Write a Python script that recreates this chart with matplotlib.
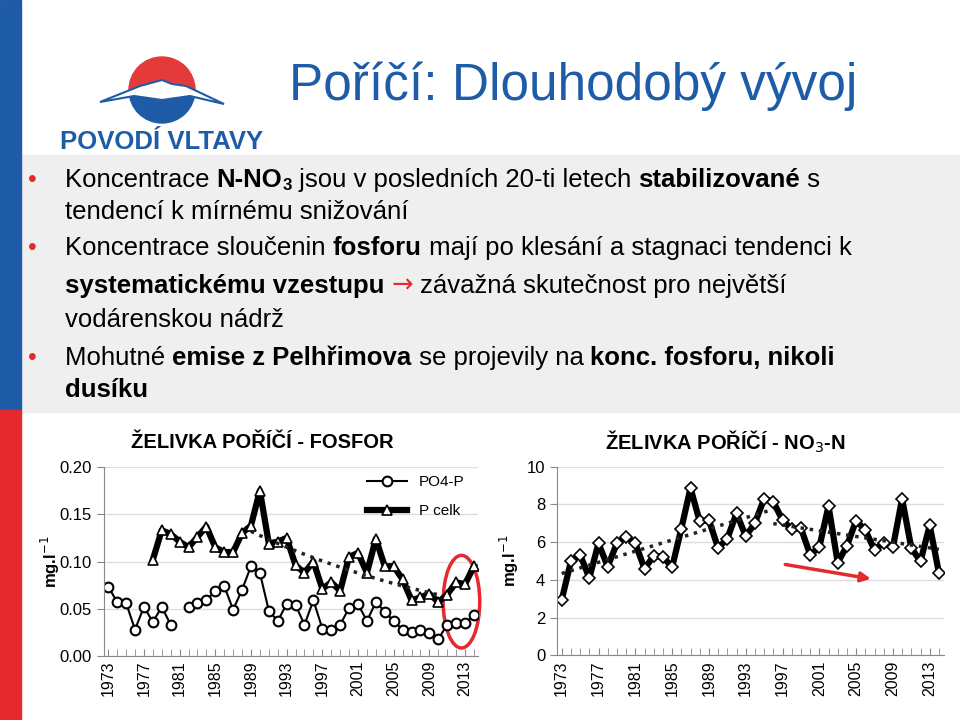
import matplotlib.pyplot as plt
import numpy as np
from matplotlib.patches import Ellipse, Rectangle, Wedge, Polygon

W, H = 960, 720

years = np.arange(1973, 2015)

po4_p = [0.0735, 0.057, 0.056, 0.028, 0.052, 0.036, 0.052, 0.033, np.nan, 0.052,
         0.056, 0.059, 0.069, 0.074, 0.049, 0.070, 0.095, 0.088, 0.048, 0.037,
         0.055, 0.054, 0.033, 0.059, 0.029, 0.027, 0.033, 0.051, 0.055, 0.037,
         0.057, 0.047, 0.037, 0.028, 0.025, 0.028, 0.024, 0.018, 0.033, 0.035,
         0.035, 0.043]

p_celk_years = np.arange(1978, 2015)
p_celk = [0.102, 0.133, 0.129, 0.121, 0.115, 0.126, 0.137, 0.115, 0.110, 0.110,
          0.130, 0.138, 0.175, 0.119, 0.121, 0.125, 0.096, 0.088, 0.100, 0.071,
          0.078, 0.069, 0.105, 0.109, 0.088, 0.124, 0.095, 0.095, 0.081, 0.059,
          0.062, 0.066, 0.057, 0.065, 0.078, 0.076, 0.095]

no3_n = [2.93, 4.98, 5.34, 4.10, 5.94, 4.70, 5.94, 6.29, 5.94, 4.59,
         5.27, 5.23, 4.66, 6.71, 8.87, 7.10, 7.17, 5.69, 6.18, 7.53,
         6.32, 7.00, 8.30, 8.14, 7.17, 6.68, 6.75, 5.34, 5.72, 7.92,
         4.91, 5.80, 7.14, 6.64, 5.58, 5.97, 5.72, 8.30, 5.69, 4.98,
         6.89, 4.38]

year_ticks = list(range(1973, 2015, 4))

fig = plt.figure(figsize=(W / 100, H / 100), dpi=100)
plt.rcParams["font.family"] = "Liberation Sans"


def fx(px):
    return px / W


def fy(py):
    return 1 - py / H


# background pieces
bg = fig.add_axes([0, 0, 1, 1])
bg.set_xlim(0, W)
bg.set_ylim(H, 0)
bg.axis("off")
bg.add_patch(Rectangle((21, 155), W - 21, 257, color="#efefef", zorder=0))
bg.add_patch(Rectangle((0, 0), 21, 410, color="#1f5ca8", zorder=1))
bg.add_patch(Rectangle((0, 410), 21, 310, color="#e42a2f", zorder=1))

# logo
bg.add_patch(Wedge((162, 90), 33, 180, 360, color="#e53a3a"))
bg.add_patch(Wedge((162, 90), 33, 0, 180, color="#1f5ca8"))
bg.add_patch(Polygon([[100, 102], [140, 86], [162, 80], [172, 84], [186, 86], [224, 104],
                      [190, 96], [162, 100], [134, 96]],
                     closed=True, facecolor="white", edgecolor="#1f5ca8", lw=1.5))
bg.text(162, 142, "POVODÍ VLTAVY", color="#1f5ca8", fontsize=18.5, fontweight="bold",
        ha="center", va="center")
bg.text(573, 86, "Poříčí: Dlouhodobý vývoj", color="#1f5ca8", fontsize=37,
        ha="center", va="center")

renderer = fig.canvas.get_renderer()


def rich_line(x, y, pieces, size=18.5):
    for txt, weight, color, sub in pieces:
        fs = size * 0.65 if sub else size
        family = "DejaVu Sans" if txt == "→" else "Liberation Sans"
        t = bg.text(x, y + (6 if sub else 0), txt, fontsize=fs, fontweight=weight,
                    color=color, va="center", ha="left", fontfamily=family)
        bb = t.get_window_extent(renderer)
        x += bb.width * W / fig.bbox.width


n, b = "normal", "bold"
k = "black"
for yb in (180, 248, 358):
    bg.text(28, yb, "•", color="#e42a2f", fontsize=18, va="center")
rich_line(65, 180, [("Koncentrace ", n, k, 0), ("N-NO", b, k, 0), ("3", b, k, 1),
                    (" jsou v posledních 20-ti letech ", n, k, 0),
                    ("stabilizované", b, k, 0), (" s", n, k, 0)])
rich_line(65, 212, [("tendencí k mírnému snižování", n, k, 0)])
rich_line(65, 248, [("Koncentrace sloučenin ", n, k, 0), ("fosforu", b, k, 0),
                    (" mají po klesání a stagnaci tendenci k", n, k, 0)])
rich_line(65, 286, [("systematickému vzestupu ", b, k, 0), ("→", n, "#e42a2f", 0),
                    (" závažná skutečnost pro největší", n, k, 0)])
rich_line(65, 320, [("vodárenskou nádrž", n, k, 0)])
rich_line(65, 358, [("Mohutné ", n, k, 0), ("emise z Pelhřimova", b, k, 0),
                    (" se projevily na ", n, k, 0), ("konc. fosforu, nikoli", b, k, 0)])
rich_line(65, 390, [("dusíku", b, k, 0)])


def style_axes(ax):
    ax.set_xlim(1972.5, 2014.5)
    ax.spines[["top", "right"]].set_visible(False)
    ax.spines[["left", "bottom"]].set_color("#888888")
    ax.set_xticks(year_ticks)
    ax.set_xticks(years, minor=True)
    ax.tick_params(axis="x", which="both", direction="in", length=5, color="#888888",
                   labelrotation=90, labelsize=11.5)
    ax.tick_params(axis="y", direction="out", length=5, color="#888888", labelsize=12)
    ax.yaxis.grid(True, color="#dddddd", lw=1)
    ax.set_axisbelow(True)
    ax.patch.set_alpha(0)


# left chart: phosphorus
ax1 = fig.add_axes([fx(103.8), fy(656), fx(374.6), (656 - 467) / H])
style_axes(ax1)
ax1.set_ylim(0, 0.20)
ax1.set_yticks([0, 0.05, 0.10, 0.15, 0.20])
ax1.set_yticklabels(["0.00", "0.05", "0.10", "0.15", "0.20"])
ax1.plot(years, po4_p, "-o", color="black", lw=1.5, ms=7, mfc="white", mew=1.5,
         label="PO4-P")
ax1.plot(p_celk_years, p_celk, "-^", color="black", lw=4.5, ms=7.5, mfc="white", mew=1.2,
         label="P celk")
sel = (p_celk_years >= 1989) & (p_celk_years <= 2010)
coef = np.polyfit(p_celk_years[sel], np.log(np.array(p_celk)[sel]), 1)
tx = np.linspace(1989, 2010, 50)
ax1.plot(tx, np.exp(np.polyval(coef, tx)), ":", color="#222222", lw=2.5)
ax1.add_patch(Ellipse((2012.6, 0.0575), 4.1, 0.098, fill=False, ec="#e42a2f", lw=2.5,
                      clip_on=False))
ax1.legend(loc="upper right", bbox_to_anchor=(1.0, 1.03), frameon=False, fontsize=11,
           handlelength=2.6, labelspacing=1.0)
ax1.set_ylabel("mg.l$^{-1}$", fontsize=12, fontweight="bold", labelpad=-2)
fig.text(fx(262), fy(443), "ŽELIVKA POŘÍČÍ - FOSFOR", fontsize=14.5, fontweight="bold",
         ha="center", va="center")

# right chart: nitrate
ax2 = fig.add_axes([fx(557.1), fy(655.3), fx(386.4), (655.3 - 466.7) / H])
style_axes(ax2)
ax2.set_ylim(0, 10)
ax2.set_yticks([0, 2, 4, 6, 8, 10])
ax2.plot(years, no3_n, "-D", color="black", lw=4.5, ms=6.5, mfc="white", mew=1.2)
no3 = np.array(no3_n)
for a, c in ((1973, 1996), (1996, 2014)):
    s = (years >= a) & (years <= c)
    cf = np.polyfit(years[s], no3[s], 1)
    ax2.plot([a, c], np.polyval(cf, [a, c]), ":", color="#222222", lw=2.5)
ax2.annotate("", xy=(2006.9, 4.03), xytext=(1997.0, 4.84),
             arrowprops=dict(arrowstyle="-|>", color="#e42a2f", lw=2.5, mutation_scale=14))
ax2.set_ylabel("mg.l$^{-1}$", fontsize=12, fontweight="bold", labelpad=4)
fig.text(fx(725), fy(442), "ŽELIVKA POŘÍČÍ - NO$_3$-N", fontsize=14.5, fontweight="bold",
         ha="center", va="center")

fig.savefig("out.png", dpi=100)
